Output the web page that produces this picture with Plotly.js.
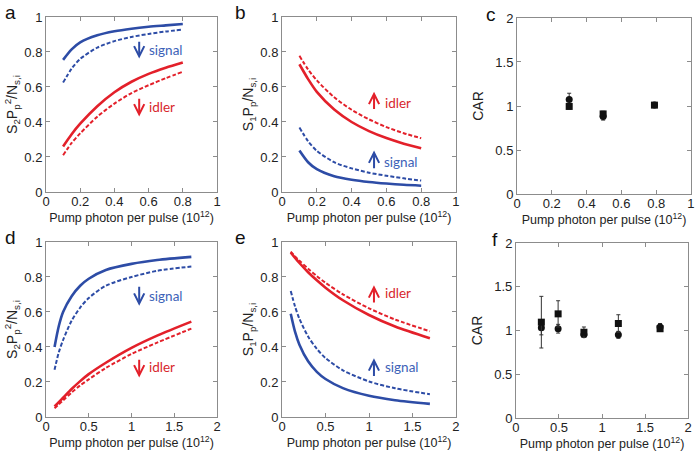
<!DOCTYPE html>
<html>
<head>
<meta charset="utf-8">
<script src="https://cdn.plot.ly/plotly-3.0.1.min.js"></script>
<style>html,body{margin:0;padding:0;background:#fff}#chart{width:700px;height:453px}</style>
</head>
<body>
<div id="chart"></div>
<script>
// ---- Panel a / b data (x: pump photons per pulse, 10^12) ----
const xAB = [0.1, 0.15, 0.2, 0.3, 0.4, 0.5, 0.6, 0.7, 0.8];
const aSignalSolid = [0.755, 0.815, 0.855, 0.895, 0.918, 0.933, 0.944, 0.952, 0.96];
const aSignalDash  = [0.625, 0.705, 0.76, 0.825, 0.862, 0.886, 0.903, 0.917, 0.928];
const aIdlerSolid  = [0.26, 0.33, 0.39, 0.49, 0.57, 0.63, 0.675, 0.71, 0.74];
const aIdlerDash   = [0.21, 0.28, 0.335, 0.43, 0.505, 0.565, 0.61, 0.65, 0.687];
const bIdlerDash   = [0.778, 0.70, 0.638, 0.541, 0.47, 0.415, 0.371, 0.336, 0.307];
const bIdlerSolid  = [0.73, 0.645, 0.572, 0.471, 0.40, 0.348, 0.308, 0.276, 0.25];
const bSignalDash  = [0.368, 0.29, 0.235, 0.17, 0.135, 0.11, 0.093, 0.078, 0.065];
const bSignalSolid = [0.237, 0.17, 0.13, 0.09, 0.07, 0.057, 0.048, 0.041, 0.036];

// ---- Panel d / e data ----
const xDE = [0.1, 0.15, 0.2, 0.3, 0.4, 0.5, 0.7, 1.0, 1.3, 1.7];
const dSignalSolid = [0.40, 0.52, 0.60, 0.69, 0.75, 0.79, 0.84, 0.875, 0.897, 0.915];
const dSignalDash  = [0.27, 0.37, 0.44, 0.55, 0.625, 0.68, 0.75, 0.80, 0.835, 0.86];
const dIdlerSolid  = [0.06, 0.085, 0.11, 0.16, 0.205, 0.245, 0.31, 0.395, 0.465, 0.545];
const dIdlerDash   = [0.05, 0.072, 0.095, 0.14, 0.18, 0.215, 0.28, 0.36, 0.425, 0.505];
const eIdlerSolid  = [0.94, 0.909, 0.88, 0.827, 0.781, 0.739, 0.667, 0.583, 0.517, 0.45];
const eIdlerDash   = [0.945, 0.918, 0.893, 0.847, 0.805, 0.767, 0.701, 0.621, 0.557, 0.49];
const eSignalDash  = [0.72, 0.631, 0.561, 0.46, 0.389, 0.337, 0.267, 0.203, 0.164, 0.13];
const eSignalSolid = [0.59, 0.486, 0.413, 0.318, 0.258, 0.217, 0.165, 0.121, 0.096, 0.075];

// ---- Panel c CAR data ----
const cX = [0.3, 0.495, 0.79];
const cCircle = [1.075, 0.88, 1.01];
const cCircleErr = [0.07, 0.04, 0.02];
const cSquare = [0.995, 0.91, 1.01];
const cSquareErr = [0.03, 0.03, 0.02];

// ---- Panel f CAR data ----
const fX = [0.295, 0.49, 0.79, 1.19, 1.675];
const fSquare = [1.095, 1.19, 0.98, 1.08, 1.02];
const fSquareErr = [0.295, 0.15, 0.06, 0.1, 0.03];
const fCircle = [1.03, 1.02, 0.95, 0.95, 1.04];
const fCircleErr = [0.08, 0.05, 0.03, 0.04, 0.04];

const BLUE = '#2d4ca6', RED = '#e3202a';
const BLUE_T = '#3d62b8', RED_T = '#d8262d';

function line(x, y, color, dash, xa, ya) {
  return {x: x, y: y, xaxis: xa, yaxis: ya, mode: 'lines', type: 'scatter',
    line: {color: color, width: dash ? 2 : 2.6, dash: dash ? '4px,2px' : 'solid', shape: 'spline', smoothing: 0.8},
    hoverinfo: 'skip', showlegend: false};
}
function pts(x, y, err, symbol, xa, ya) {
  return {x: x, y: y, xaxis: xa, yaxis: ya, mode: 'markers', type: 'scatter',
    marker: {symbol: symbol, size: 7, color: '#111'},
    error_y: {type: 'data', array: err, visible: true, color: '#333', thickness: 1, width: 2},
    showlegend: false};
}

const data = [
  line(xAB, aSignalSolid, BLUE, false, 'x', 'y'),
  line(xAB, aSignalDash, BLUE, true, 'x', 'y'),
  line(xAB, aIdlerSolid, RED, false, 'x', 'y'),
  line(xAB, aIdlerDash, RED, true, 'x', 'y'),
  line(xAB, bIdlerDash, RED, true, 'x2', 'y2'),
  line(xAB, bIdlerSolid, RED, false, 'x2', 'y2'),
  line(xAB, bSignalDash, BLUE, true, 'x2', 'y2'),
  line(xAB, bSignalSolid, BLUE, false, 'x2', 'y2'),
  pts(cX, cCircle, cCircleErr, 'circle', 'x3', 'y3'),
  pts(cX, cSquare, cSquareErr, 'square', 'x3', 'y3'),
  line(xDE, dSignalSolid, BLUE, false, 'x4', 'y4'),
  line(xDE, dSignalDash, BLUE, true, 'x4', 'y4'),
  line(xDE, dIdlerSolid, RED, false, 'x4', 'y4'),
  line(xDE, dIdlerDash, RED, true, 'x4', 'y4'),
  line(xDE, eIdlerDash, RED, true, 'x5', 'y5'),
  line(xDE, eIdlerSolid, RED, false, 'x5', 'y5'),
  line(xDE, eSignalDash, BLUE, true, 'x5', 'y5'),
  line(xDE, eSignalSolid, BLUE, false, 'x5', 'y5'),
  pts(fX, fCircle, fCircleErr, 'circle', 'x6', 'y6'),
  pts(fX, fSquare, fSquareErr, 'square', 'x6', 'y6')
];

const FONT = 'Liberation Sans, Arial, sans-serif';
const XT = 'Pump photon per pulse (10<sup>12</sup>)';
function ax(isX, domain, range, dtick, anchor, title, standoff) {
  return {domain: domain, range: range, dtick: dtick, tick0: 0, anchor: anchor,
    showline: true, linecolor: '#8c8c8c', linewidth: 1, mirror: 'ticks',
    ticks: 'inside', ticklen: 4, tickcolor: '#8c8c8c', showgrid: false, zeroline: false,
    ticklabelstandoff: isX ? -3 : 0,
    tickfont: {family: FONT, size: 13, color: '#222'},
    title: {text: title, font: {family: FONT, size: isX ? 12.5 : 14, color: '#222'}, standoff: standoff},
    automargin: false, fixedrange: true};
}
const colL = [0.0657, 0.310], colM = [0.4029, 0.6514], colR = [0.7386, 0.9871], colR2 = [0.7371, 0.9829];
const rowT = [0.5762, 0.9625], rowTc = [0.5717, 0.9603], rowB = [0.0795, 0.4658], rowBf = [0.0773, 0.4636];
const Y2 = 'S<sub>2</sub>P<sub>p</sub><sup>2</sup>/N<sub>s,i</sub>';
const Y1 = 'S<sub>1</sub>P<sub>p</sub>/N<sub>s,i</sub>';

function arrow(x, y0, y1, color, xr, yr) {
  return {x: x, y: y1, ax: x, ay: y0, xref: xr, yref: yr, axref: xr, ayref: yr,
    text: '', showarrow: true, arrowhead: 5, arrowsize: 1, arrowwidth: 2, arrowcolor: color};
}
function lbl(x, y, t, color, xr, yr) {
  return {x: x, y: y, xref: xr, yref: yr, text: t, showarrow: false, xanchor: 'left', yanchor: 'middle',
    font: {family: 'Lato, Open Sans, sans-serif', size: 13.5, color: color}};
}
function panel(px, py, t) {
  return {x: px / 700, y: 1 - py / 453, xref: 'paper', yref: 'paper', text: t, showarrow: false,
    xanchor: 'left', yanchor: 'top', font: {family: FONT, size: 19, color: '#111'}};
}

const layout = {
  width: 700, height: 453, margin: {l: 0, r: 0, t: 0, b: 0},
  paper_bgcolor: '#fff', plot_bgcolor: '#fff', showlegend: false,
  xaxis: ax(true, colL, [0, 1], 0.2, 'y', XT, 2), yaxis: ax(false, rowT, [0, 1], 0.2, 'x', Y2, 3),
  xaxis2: ax(true, colM, [0, 1], 0.2, 'y2', XT, 2), yaxis2: ax(false, rowT, [0, 1], 0.2, 'x2', Y1, 3),
  xaxis3: ax(true, colR, [0, 1], 0.2, 'y3', XT, 2), yaxis3: ax(false, rowTc, [0, 2], 0.5, 'x3', 'CAR', 8),
  xaxis4: ax(true, colL, [0, 2], 0.5, 'y4', XT, 2), yaxis4: ax(false, rowB, [0, 1], 0.2, 'x4', Y2, 3),
  xaxis5: ax(true, colM, [0, 2], 0.5, 'y5', XT, 2), yaxis5: ax(false, rowB, [0, 1], 0.2, 'x5', Y1, 3),
  xaxis6: ax(true, colR2, [0, 2], 0.5, 'y6', XT, 2), yaxis6: ax(false, rowBf, [0, 2], 0.5, 'x6', 'CAR', 8),
  annotations: [
    arrow(0.545, 0.867, 0.763, BLUE, 'x', 'y'), lbl(0.59, 0.814, 'signal', BLUE_T, 'x', 'y'),
    arrow(0.545, 0.541, 0.431, RED, 'x', 'y'), lbl(0.59, 0.484, 'idler', RED_T, 'x', 'y'),
    arrow(0.529, 0.465, 0.573, RED, 'x2', 'y2'), lbl(0.578, 0.507, 'idler', RED_T, 'x2', 'y2'),
    arrow(0.529, 0.127, 0.237, BLUE, 'x2', 'y2'), lbl(0.576, 0.169, 'signal', BLUE_T, 'x2', 'y2'),
    arrow(1.09, 0.753, 0.636, BLUE, 'x4', 'y4'), lbl(1.176, 0.693, 'signal', BLUE_T, 'x4', 'y4'),
    arrow(1.09, 0.336, 0.226, RED, 'x4', 'y4'), lbl(1.176, 0.283, 'idler', RED_T, 'x4', 'y4'),
    arrow(1.057, 0.645, 0.753, RED, 'x5', 'y5'), lbl(1.157, 0.71, 'idler', RED_T, 'x5', 'y5'),
    arrow(1.057, 0.226, 0.336, BLUE, 'x5', 'y5'), lbl(1.157, 0.283, 'signal', BLUE_T, 'x5', 'y5'),
    panel(3, 0, 'a'), panel(233, 0, 'b'), panel(484, 2, 'c'),
    panel(3, 225, 'd'), panel(233, 225, 'e'), panel(490, 227, 'f')
  ]
};

Plotly.newPlot('chart', data, layout, {staticPlot: true, displayModeBar: false});
</script>
</body>
</html>
